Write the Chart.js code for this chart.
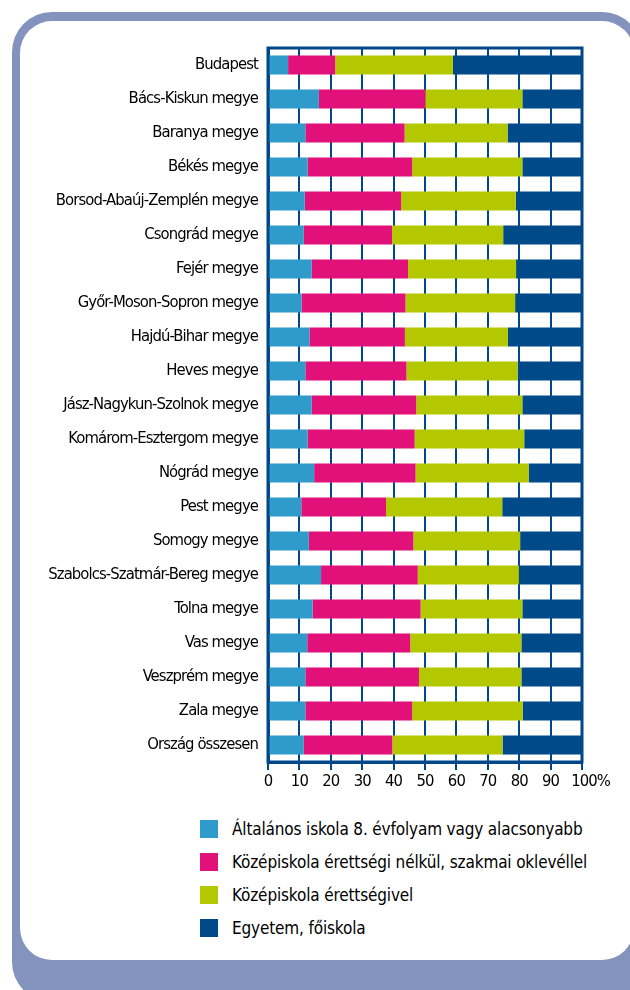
<!DOCTYPE html>
<html lang="hu">
<head>
<meta charset="utf-8">
<title>Iskolai végzettség megyénként</title>
<script src="https://cdn.jsdelivr.net/npm/chart.js@4/dist/chart.umd.min.js"></script>
<style>
  html, body { margin: 0; padding: 0; background: #fff; }
  body { font-family: "DejaVu Sans Condensed", "DejaVu Sans", sans-serif; }
  .frame { position: fixed; left: 12px; top: 12px; right: -12px; bottom: -12px; background: #8493be; border-radius: 40px; }
  .inner { position: fixed; left: 20px; top: 21px; right: -4px; bottom: 30px; background: #fff; border-radius: 32px; }
  #monthlyChart { position: fixed; left: 0; top: 0; }
  #legend { position: fixed; left: 200px; top: 820px; }
  .item { display: flex; align-items: center; height: 18px; margin-bottom: 15px; font-size: 17px; letter-spacing: -0.15px; color: #000; white-space: nowrap; }
  .box { width: 18px; height: 18px; margin-right: 14px; flex: none; }
</style>
</head>
<body>
<div class="frame"></div>
<div class="inner"></div>
<canvas id="monthlyChart" width="630" height="800"></canvas>
<div id="legend"></div>
<script>
const counties = [
  "Budapest", "Bács-Kiskun megye", "Baranya megye", "Békés megye",
  "Borsod-Abaúj-Zemplén megye", "Csongrád megye", "Fejér megye",
  "Győr-Moson-Sopron megye", "Hajdú-Bihar megye", "Heves megye",
  "Jász-Nagykun-Szolnok megye", "Komárom-Esztergom megye", "Nógrád megye",
  "Pest megye", "Somogy megye", "Szabolcs-Szatmár-Bereg megye", "Tolna megye",
  "Vas megye", "Veszprém megye", "Zala megye", "Ország összesen"
];

// share of each level, percent
const elementary = [6.4, 16.2, 11.9, 12.6, 11.7, 11.4, 13.9, 10.7, 13.2, 11.9, 13.9, 12.6, 14.7, 10.6, 13.0, 16.9, 14.2, 12.5, 11.9, 11.9, 11.4];
const vocational = [15.0, 33.9, 31.6, 33.3, 30.7, 28.1, 30.7, 33.1, 30.4, 32.2, 33.3, 34.1, 32.3, 27.0, 33.3, 30.8, 34.4, 32.8, 36.2, 34.0, 28.2];
const secondary = [37.5, 30.9, 32.8, 35.1, 36.5, 35.4, 34.4, 34.9, 32.8, 35.4, 33.8, 34.9, 36.0, 37.0, 34.0, 32.2, 32.4, 35.4, 32.6, 35.2, 35.1];
const university = [41.1, 19.0, 23.7, 19.0, 21.1, 25.1, 21.0, 21.3, 23.6, 20.5, 19.0, 18.4, 17.0, 25.4, 19.7, 20.1, 19.0, 19.3, 19.3, 18.9, 25.3];

const seriesNames = [
  "Általános iskola 8. évfolyam vagy alacsonyabb",
  "Középiskola érettségi nélkül, szakmai oklevéllel",
  "Középiskola érettségivel",
  "Egyetem, főiskola"
];
const seriesColors = ["#2e9bcb", "#e2117a", "#b3c800", "#004a8a"];
const xTickStep = 10;

const navy = "#00478a";
Chart.defaults.font.family = '"DejaVu Sans Condensed", "DejaVu Sans", sans-serif';
Chart.defaults.font.size = 16.5;
Chart.defaults.color = "#000";

const values = [elementary, vocational, secondary, university];

// the original uses a very narrow face, tighten the canvas text a bit
const narrowText = {
  id: "narrowText",
  beforeUpdate(chart) { chart.ctx.letterSpacing = "-0.9px"; },
  beforeDraw(chart) { chart.ctx.letterSpacing = "-0.9px"; }
};

// frame round the plot (top and right sides are not axis borders)
const plotFrame = {
  id: "plotFrame",
  afterDatasetsDraw(chart) {
    const a = chart.chartArea;
    const c = chart.ctx;
    c.save();
    c.strokeStyle = navy;
    c.lineWidth = 3;
    c.strokeRect(a.left, a.top, a.right - a.left, a.bottom - a.top);
    c.restore();
  }
};

const ctx = document.getElementById('monthlyChart').getContext('2d');

const chart = new Chart(ctx, {
  type: 'bar',
  data: {
    labels: counties,
    datasets: values.map((v, i) => ({
      label: seriesNames[i],
      data: v,
      backgroundColor: seriesColors[i],
      borderWidth: 0,
      categoryPercentage: 1,
      barPercentage: 0.56
    }))
  },
  options: {
    indexAxis: 'y',
    responsive: false,
    devicePixelRatio: 1,
    animation: false,
    layout: { padding: { top: 48, right: 48, left: 0, bottom: 0 } },
    plugins: {
      legend: { display: false },
      tooltip: { enabled: false }
    },
    scales: {
      x: {
        stacked: true,
        min: 0,
        max: 100,
        afterFit: s => { s.height = 38; },
        grid: { color: navy, lineWidth: 2, tickLength: 8, drawTicks: true },
        border: { color: navy, width: 3 },
        ticks: {
          stepSize: xTickStep,
          autoSkip: false,
          padding: 2,
          maxRotation: 0,
          callback: v => v === 100 ? '\u2007\u2007100%' : String(v)
        }
      },
      y: {
        stacked: true,
        afterFit: s => { s.width = 268; },
        grid: { display: false, drawTicks: false, tickLength: 0 },
        border: { color: navy, width: 3 },
        ticks: { padding: 10, autoSkip: false }
      }
    }
  },
  plugins: [narrowText, plotFrame]
});

// legend as a vertical list under the chart
const legend = document.getElementById('legend');
seriesNames.forEach((name, i) => {
  const row = document.createElement('div');
  row.className = 'item';
  const box = document.createElement('span');
  box.className = 'box';
  box.style.background = seriesColors[i];
  row.appendChild(box);
  row.appendChild(document.createTextNode(name));
  legend.appendChild(row);
});
</script>
</body>
</html>
